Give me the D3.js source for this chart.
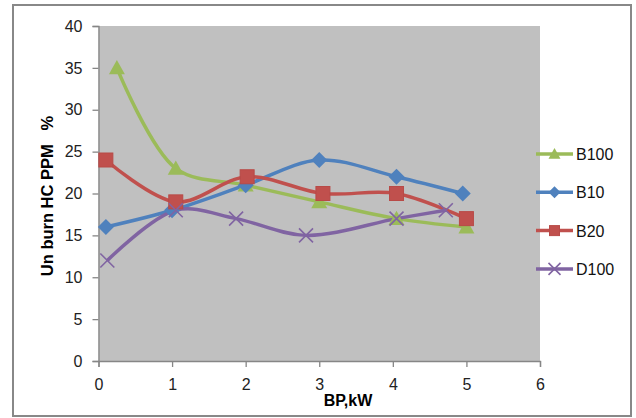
<!DOCTYPE html>
<html>
<head>
<meta charset="utf-8">
<script src="https://cdn.jsdelivr.net/npm/d3@7"></script>
<style>
  body{margin:0;background:#fff;}
  text{font-family:"Liberation Sans",Arial,sans-serif;}
</style>
</head>
<body>
<svg id="chart" width="636" height="418"></svg>
<script>
// series data
var seriesNames=['B100','B10','B20','D100'];
var b100X=[0.25,1.05,2.0,3.0,4.05,5.0];
var b100Y=[35,23,21,19,17,16];
var b10X=[0.1,1.0,2.0,3.0,4.05,4.95];
var b10Y=[16,18,21,24,22,20];
var b20X=[0.1,1.05,2.02,3.05,4.05,5.0];
var b20Y=[24,19,22,20,20,17];
var d100X=[0.12,1.05,1.87,2.82,4.05,4.72];
var d100Y=[12,18,17,15,17,18];
var xTicks=[0,1,2,3,4,5,6];
var yTicks=[0,5,10,15,20,25,30,35,40];

var colors={B100:'#9BBB59',B10:'#4F81BD',B20:'#C0504D',D100:'#8064A2'};
var shapes={B100:'tri',B10:'dia',B20:'sq',D100:'x'};

var series=[
  {name:'B100',xs:b100X,ys:b100Y},
  {name:'B10',xs:b10X,ys:b10Y},
  {name:'B20',xs:b20X,ys:b20Y},
  {name:'D100',xs:d100X,ys:d100Y}
];

var svg=d3.select('#chart');
var pLeft=98.5,pRight=540,pTop=26,pBottom=361;

// outer frame
svg.append('rect')
  .attr('x',13).attr('y',5).attr('width',618).attr('height',411)
  .attr('fill','#fff').attr('stroke','#888').attr('stroke-width',2);

var x=d3.scaleLinear().domain([0,6]).range([pLeft,pRight]);
var y=d3.scaleLinear().domain([0,40]).range([pBottom,pTop]);

// plot area
svg.append('rect')
  .attr('x',pLeft).attr('y',pTop).attr('width',pRight-pLeft).attr('height',pBottom-pTop)
  .attr('fill','#C0C0C0');

// axes
var yAxis=svg.append('g').attr('transform','translate('+pLeft+',0)')
  .call(d3.axisLeft(y).tickValues(yTicks).tickFormat(d3.format('d')).tickSize(6).tickPadding(10));
var xAxis=svg.append('g').attr('transform','translate(0,'+pBottom+')')
  .call(d3.axisBottom(x).tickValues(xTicks).tickFormat(d3.format('d')).tickSize(6).tickPadding(12));
[xAxis,yAxis].forEach(function(ax){
  ax.select('.domain').attr('stroke','#868686').attr('stroke-width',1.3);
  ax.selectAll('.tick line').attr('stroke','#868686').attr('stroke-width',1.3);
  ax.selectAll('.tick text').attr('fill','#222').style('font-size','16px')
    .style('font-family','"Liberation Sans",Arial,sans-serif');
});

function marker(g,shape,col,s){
  if(shape=='sq'){
    g.append('rect').attr('x',-s/2).attr('y',-s/2).attr('width',s).attr('height',s)
      .attr('fill',col).attr('stroke','#b84a47').attr('stroke-width',1);
  }else if(shape=='dia'){
    var h=s/2+1;
    g.append('path').attr('d','M0,'+(-h)+'L'+h+',0L0,'+h+'L'+(-h)+',0Z').attr('fill',col);
  }else if(shape=='tri'){
    var h=s/2+1;
    g.append('path').attr('d','M0,'+(-h)+'L'+h+','+(h*0.8)+'L'+(-h)+','+(h*0.8)+'Z').attr('fill',col);
  }else{
    var h=s/2;
    g.append('path').attr('d','M'+(-h)+','+(-h)+'L'+h+','+h+'M'+h+','+(-h)+'L'+(-h)+','+h)
      .attr('stroke',col).attr('stroke-width',1.6).attr('fill','none');
  }
}

var line=d3.line()
  .x(function(d){return x(d[0]);})
  .y(function(d){return y(d[1]);})
  .curve(d3.curveCatmullRom.alpha(0.5));

series.forEach(function(s){
  var pts=s.xs.map(function(v,i){return [v,s.ys[i]];});
  svg.append('path').datum(pts).attr('d',line)
    .attr('fill','none').attr('stroke',colors[s.name]).attr('stroke-width',3.5)
    .attr('stroke-linejoin','round');
  s.pts=pts;
});
series.forEach(function(s){
  s.pts.forEach(function(p){
    var g=svg.append('g').attr('transform','translate('+x(p[0])+','+y(p[1])+')');
    marker(g,shapes[s.name],colors[s.name],14);
  });
});

// legend
seriesNames.forEach(function(n,i){
  var ly=154+i*38.3;
  svg.append('line').attr('x1',536).attr('x2',573).attr('y1',ly).attr('y2',ly)
    .attr('stroke',colors[n]).attr('stroke-width',3.5);
  var g=svg.append('g').attr('transform','translate(554.5,'+ly+')');
  marker(g,shapes[n],colors[n],n=='D100'?12:10);
  svg.append('text').attr('x',576).attr('y',ly+6).text(n)
    .style('font-size','16px').attr('fill','#111');
});

// axis titles
svg.append('text').attr('x',348).attr('y',406).attr('text-anchor','middle')
  .style('font-size','16px').style('font-weight','bold').text('BP,kW');
svg.append('text').attr('transform','translate(53,196) rotate(-90)')
  .attr('text-anchor','middle').style('font-size','16.5px').style('font-weight','bold')
  .style('white-space','pre').text('Un burn HC PPM   %');
</script>
</body>
</html>
